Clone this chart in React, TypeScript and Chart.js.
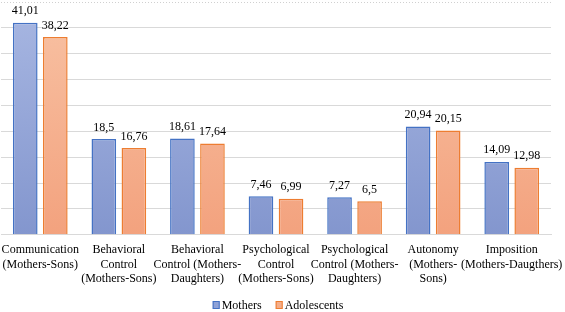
import React, { useEffect, useRef } from "react";
import { Chart, registerables } from "chart.js";

Chart.register(...registerables);

const categories: string[][] = [
  ["Communication", "(Mothers-Sons)"],
  ["Behavioral", "Control", "(Mothers-Sons)"],
  ["Behavioral", "Control (Mothers-", "Daughters)"],
  ["Psychological", "Control", "(Mothers-Sons)"],
  ["Psychological", "Control (Mothers-", "Daughters)"],
  ["Autonomy", "(Mothers-", "Sons)"],
  ["Imposition", "(Mothers-Daugthers)"],
];
const mothers = [41.01, 18.5, 18.61, 7.46, 7.27, 20.94, 14.09];
const adolescents = [38.22, 16.76, 17.64, 6.99, 6.5, 20.15, 12.98];
const seriesNames = ["Mothers", "Adolescents"];

const FONT = "'Liberation Serif', 'Times New Roman', serif";
const BLUE_FILL = "#8FA2D7";
const ORANGE_FILL = "#F5AE8A";
const BLUE_LINE = "#4472C4";
const ORANGE_LINE = "#ED7D31";

function gradient(ctx: any, top: string, bottom: string, fallback: string) {
  const chart = ctx.chart;
  const area = chart.chartArea;
  if (!area) return fallback;
  const g = chart.ctx.createLinearGradient(0, area.top, 0, area.bottom);
  g.addColorStop(0, top);
  g.addColorStop(1, bottom);
  return g;
}

const valueLabels = {
  id: "valueLabels",
  afterDatasetsDraw(chart: any) {
    const ctx = chart.ctx;
    ctx.save();
    ctx.font = `12px ${FONT}`;
    ctx.fillStyle = "#000";
    ctx.textAlign = "center";
    ctx.textBaseline = "alphabetic";
    chart.data.datasets.forEach((ds: any, i: number) => {
      const meta = chart.getDatasetMeta(i);
      meta.data.forEach((bar: any, j: number) => {
        const v = ds.data[j];
        ctx.fillText(String(v).replace(".", ","), bar.x, bar.y - 8.5);
      });
    });
    ctx.restore();
  },
};

const topLine = {
  id: "topLine",
  beforeDatasetsDraw(chart: any) {
    const { ctx, chartArea } = chart;
    ctx.save();
    ctx.strokeStyle = "#d0d0d0";
    ctx.lineWidth = 1;
    ctx.setLineDash([1, 2]);
    ctx.beginPath();
    ctx.moveTo(chartArea.left, Math.round(chartArea.top) + 0.5);
    ctx.lineTo(chartArea.right, Math.round(chartArea.top) + 0.5);
    ctx.stroke();
    ctx.restore();
  },
};

const customLegend = {
  id: "customLegend",
  afterDraw(chart: any) {
    const { ctx, chartArea } = chart;
    ctx.save();
    ctx.font = `12px ${FONT}`;
    ctx.textBaseline = "alphabetic";
    ctx.textAlign = "left";
    const fills = [BLUE_FILL, ORANGE_FILL];
    const lines = [BLUE_LINE, ORANGE_LINE];
    const box = 7;
    const gapText = 2;
    const gapItem = 14;
    const widths = seriesNames.map((s) => ctx.measureText(s).width);
    const total = widths.reduce((a, w) => a + box + gapText + w, 0) + gapItem * (seriesNames.length - 1);
    let x = (chartArea.left + chartArea.right) / 2 + 2 - total / 2;
    const baseline = 309;
    seriesNames.forEach((s, i) => {
      ctx.fillStyle = fills[i];
      ctx.fillRect(x, baseline - 8, box, 8);
      ctx.strokeStyle = lines[i];
      ctx.lineWidth = 1;
      ctx.strokeRect(x + 0.5, baseline - 7.5, box - 1, 7);
      x += box + gapText;
      ctx.fillStyle = "#000";
      ctx.fillText(s, x, baseline);
      x += widths[i] + gapItem;
    });
    ctx.restore();
  },
};

export default function App() {
  const ref = useRef<HTMLCanvasElement>(null);
  useEffect(() => {
    document.body.style.margin = "0";
    const chart = new Chart(ref.current!, {
      type: "bar",
      data: {
        labels: categories,
        datasets: [
          {
            label: seriesNames[0],
            data: mothers,
            backgroundColor: (c: any) => gradient(c, "#A8B7E2", "#8396CE", BLUE_FILL),
            borderColor: BLUE_LINE,
            borderWidth: 1.5,
            categoryPercentage: 0.765,
            barPercentage: 0.82,
          },
          {
            label: seriesNames[1],
            data: adolescents,
            backgroundColor: (c: any) => gradient(c, "#F8C2A4", "#F3A27E", ORANGE_FILL),
            borderColor: ORANGE_LINE,
            borderWidth: 1.5,
            categoryPercentage: 0.765,
            barPercentage: 0.82,
          },
        ],
      },
      options: {
        responsive: false,
        animation: false,
        devicePixelRatio: 1,
        layout: { padding: { left: 1, right: 14, top: 2, bottom: 18 } },
        plugins: {
          legend: { display: false },
          tooltip: { enabled: false },
        },
        scales: {
          x: {
            grid: { display: false, drawTicks: false },
            border: { color: "#d9d9d9" },
            ticks: {
              color: "#000",
              font: { family: FONT, size: 12, lineHeight: 1.2 },
              maxRotation: 0,
              minRotation: 0,
              autoSkip: false,
              padding: 8,
            },
            afterFit: (scale: any) => {
              scale.paddingLeft = 0;
              scale.paddingRight = 0;
            },
          },
          y: {
            min: 0,
            max: 45,
            ticks: { display: false, stepSize: 5 },
            grid: {
              drawTicks: false,
              color: (c: any) => (c.tick && c.tick.value === 45 ? "rgba(0,0,0,0)" : "#d9d9d9"),
            },
            border: { display: false },
          },
        },
      },
      plugins: [valueLabels, topLine, customLegend],
    });
    return () => chart.destroy();
  }, []);
  return <canvas ref={ref} width={565} height={312} style={{ display: "block" }} />;
}
